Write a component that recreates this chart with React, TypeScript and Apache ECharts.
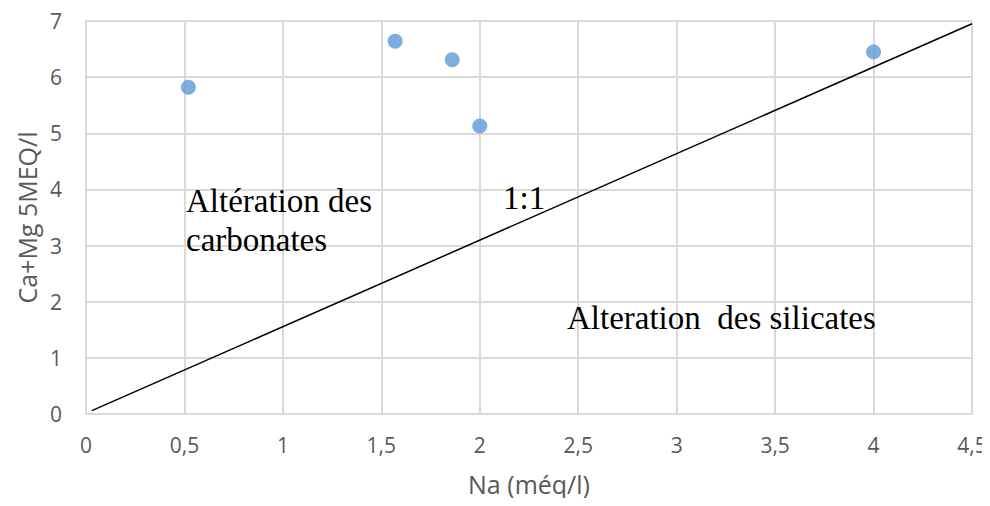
import React, { useEffect, useRef } from "react";
import * as echarts from "echarts";

// Na (méq/l) against Ca+Mg for each sample
const naValues = [0.52, 1.57, 1.86, 2.0, 4.0];
const caMgValues = [5.82, 6.64, 6.31, 5.13, 6.45];

// 1:1 reference line end points
const refLineX = [0.03, 4.5];
const refLineY = [0.06, 6.95];

const xTicks = { min: 0, max: 4.5, interval: 0.5 };
const yTicks = { min: 0, max: 7, interval: 1 };

const labelFont = "'Open Sans', 'Liberation Sans', sans-serif";
const serifFont = "'Liberation Serif', 'Times New Roman', serif";
const gray = "#595959";

export default function App() {
  const ref = useRef<HTMLDivElement>(null);

  useEffect(() => {
    if (!ref.current) return;
    const chart = echarts.init(ref.current, undefined, { renderer: "svg" });
    const fmt = (v: number) => String(v).replace(".", ",");
    chart.setOption({
      animation: false,
      backgroundColor: "#ffffff",
      grid: { left: 86, right: 18, top: 21, bottom: 92, containLabel: false, outerBoundsMode: "none" },
      xAxis: {
        type: "value",
        min: xTicks.min,
        max: xTicks.max,
        interval: xTicks.interval,
        name: "Na (méq/l)",
        nameLocation: "middle",
        nameGap: 57,
        nameTextStyle: { color: gray, fontSize: 25, fontFamily: labelFont },
        axisLine: { lineStyle: { color: "#d9d9d9", width: 2 } },
        axisTick: { show: false },
        axisLabel: { color: gray, fontSize: 21, fontFamily: labelFont, margin: 20, formatter: fmt },
        splitLine: { lineStyle: { color: "#d9d9d9", width: 2 } },
      },
      yAxis: {
        type: "value",
        min: yTicks.min,
        max: yTicks.max,
        interval: yTicks.interval,
        name: "Ca+Mg 5MEQ/l",
        nameLocation: "middle",
        nameGap: 46,
        nameTextStyle: { color: gray, fontSize: 25, fontFamily: labelFont },
        axisLine: { show: true, lineStyle: { color: "#d9d9d9", width: 2 } },
        axisTick: { show: false },
        axisLabel: { color: gray, fontSize: 21, fontFamily: labelFont, margin: 24, formatter: fmt },
        splitLine: { lineStyle: { color: "#d9d9d9", width: 2 } },
      },
      series: [
        {
          type: "line",
          data: refLineX.map((x, i) => [x, refLineY[i]]),
          symbol: "none",
          lineStyle: { color: "#000000", width: 1.5 },
          z: 3,
        },
        {
          type: "scatter",
          data: naValues.map((x, i) => [x, caMgValues[i]]),
          symbolSize: 15,
          itemStyle: { color: "#5b9bd5" },
          z: 4,
        },
      ],
      graphic: [
        {
          type: "text",
          left: 186,
          top: 181,
          z: 100,
          style: {
            text: "Altération des\ncarbonates",
            font: `33px ${serifFont}`,
            fill: "#000000",
            lineHeight: 39,
          },
        },
        {
          type: "text",
          left: 503,
          top: 181,
          z: 100,
          style: { text: "1:1", font: `33px ${serifFont}`, fill: "#000000" },
        },
        {
          type: "text",
          left: 567,
          top: 301,
          z: 100,
          style: { text: "Alteration  des silicates", font: `33px ${serifFont}`, fill: "#000000" },
        },
      ],
    });
    return () => chart.dispose();
  }, []);

  return <div ref={ref} style={{ width: 990, height: 506, margin: -8 }} />;
}
